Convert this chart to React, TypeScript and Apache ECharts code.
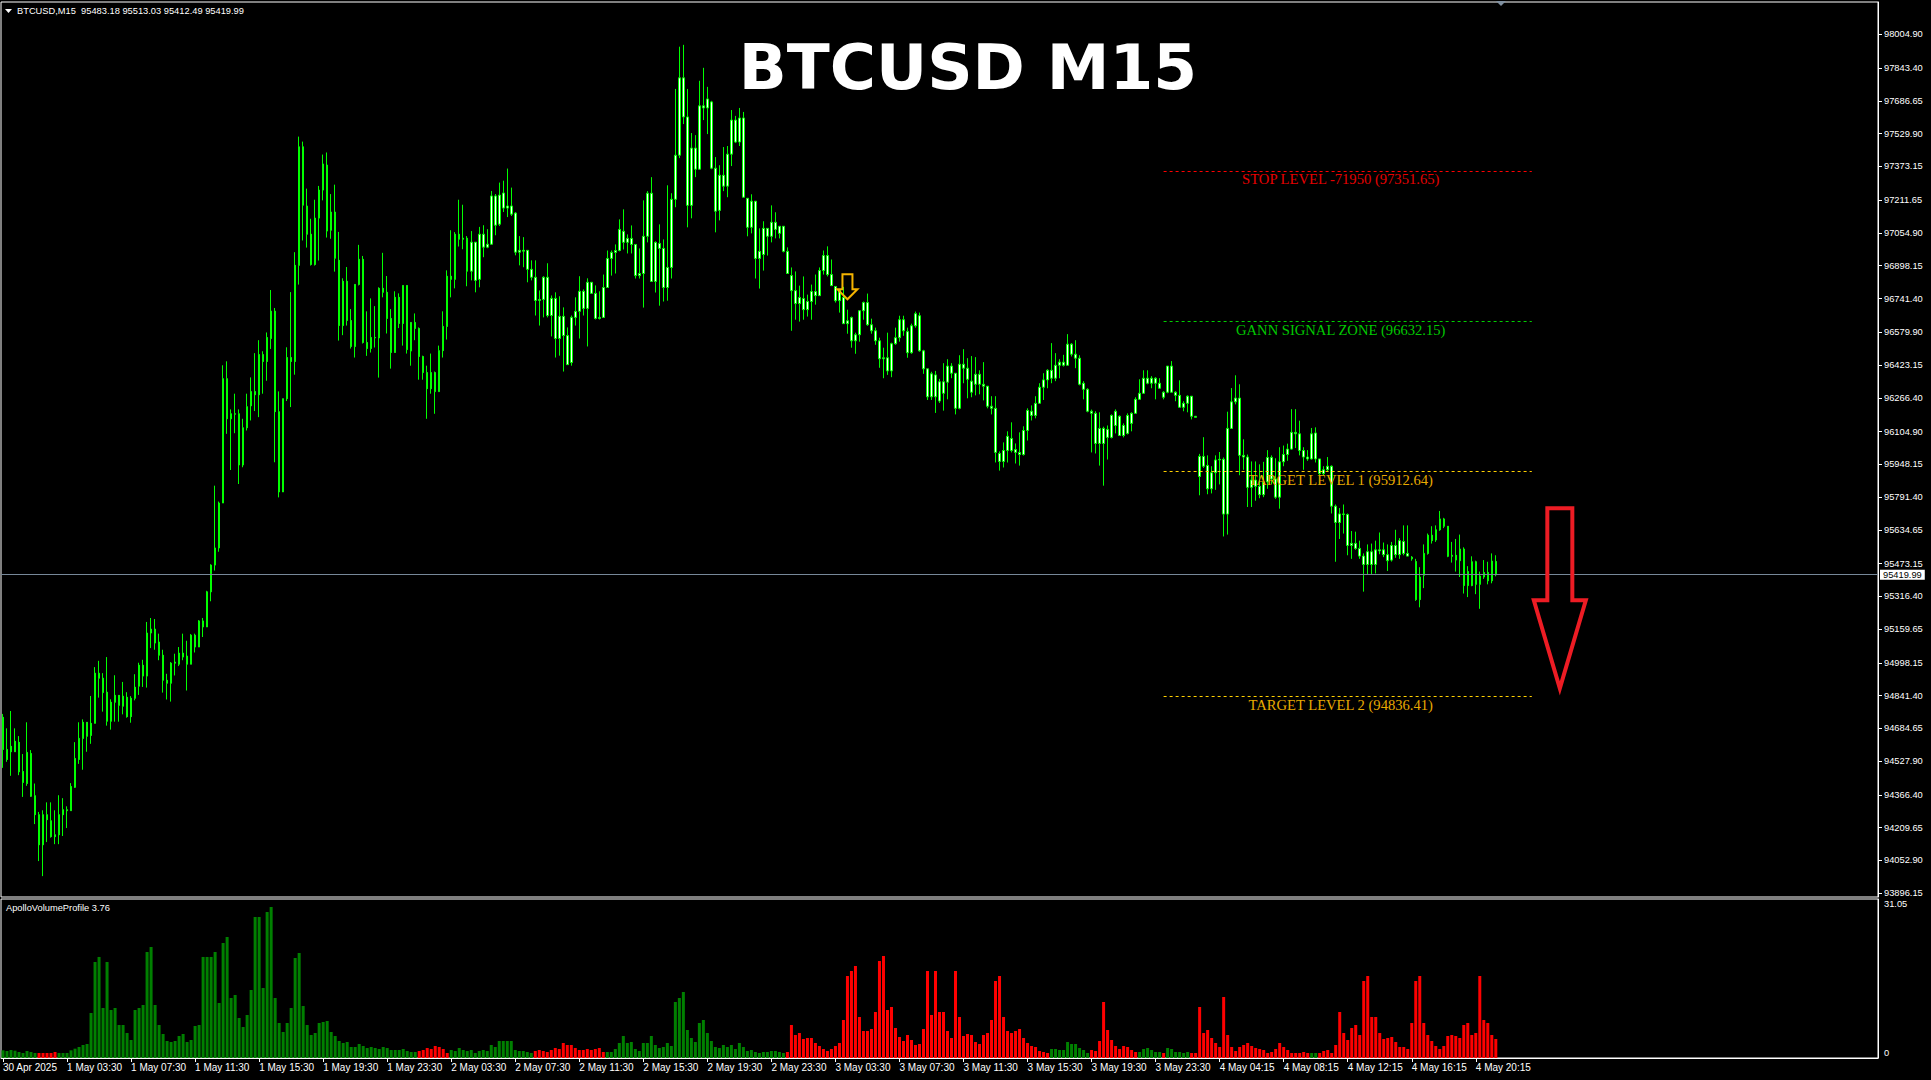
import React, { useEffect, useRef } from 'react';
import * as echarts from 'echarts';

// ---------- DATA ----------
const opens = [
94738,94584,94573,94573,94618,94479,94421,94565,94363,94272,
94128,94272,94243,94167,94176,94272,94296,94291,94403,94536,
94637,94714,94651,94709,94949,94925,94858,94719,94810,94843,
94791,94834,94741,94829,94887,94987,94935,95141,95160,95098,
95035,94915,94901,94997,94992,95045,95031,94992,95131,95074,
95199,95170,95338,95466,95548,95763,96358,96166,96190,96190,
95945,96123,96228,96296,96281,96473,96440,96550,96681,96200,
95816,96262,96459,96440,96900,97467,97184,97049,96904,97126,
97260,97380,97068,97155,96924,96612,96824,96636,96512,96809,
96929,96531,96502,96555,96553,96790,96771,96646,96483,96747,
96622,96804,96490,96627,96598,96464,96387,96310,96387,96296,
96492,96608,96848,96833,97049,97025,97030,96872,97011,96833,
97049,96987,97001,97232,97097,97246,97174,97184,97150,96963,
96972,96972,96881,96843,96732,96737,96843,96660,96742,96550,
96656,96564,96435,96651,96680,96776,96694,96819,96766,96646,
96651,96794,96933,96962,96971,97063,97010,97029,97000,96851,
96861,97039,97245,96823,97005,96981,96794,96890,97216,97427,
97797,97610,97187,97461,97360,97663,97653,97682,97365,97163,
97331,97279,97432,97595,97490,97605,97221,97082,97207,96933,
96952,97077,97039,97106,97053,97087,96967,96851,96779,96717,
96741,96688,96727,96775,96755,96875,96947,96856,96799,96731,
96746,96621,96650,96539,96568,96683,96722,96616,96587,96539,
96453,96458,96395,96525,96554,96640,96583,96482,96611,96659,
96491,96405,96271,96376,96251,96343,96341,96418,96384,96216,
96427,96408,96346,96331,96379,96331,96322,96226,96216,96000,
95962,96014,96072,96019,96005,95995,96110,96202,96182,96240,
96317,96352,96398,96360,96422,96437,96422,96523,96475,96456,
96336,96307,96202,96192,96048,96120,96077,96077,96134,96178,
96086,96096,96144,96192,96259,96288,96360,96336,96360,96336,
96293,96293,96418,96293,96278,96221,96240,96274,96178,95890,
95986,95943,95831,95908,95969,95972,95710,96120,96247,96265,
95991,95983,95838,95873,95843,95803,95864,95981,95878,95791,
95960,95995,96021,96101,96094,96014,95983,95974,96098,95974,
95904,95922,95939,95748,95670,95711,95708,95560,95570,95546,
95509,95469,95530,95469,95539,95539,95516,95490,95560,95516,
95579,95522,95504,95483,95301,95417,95522,95609,95586,95635,
95687,95652,95508,95513,95487,95543,95368,95368,95482,95374,
95409,95431,95391,95483.18];

const highs = [
94754,94685,94768,94685,94648,94562,94714,94581,94421,94285,
94293,94331,94331,94293,94365,94351,94312,94423,94619,94714,
94728,94714,94840,94978,95008,94949,95026,94824,94939,94843,
94907,94858,94839,94944,94999,95013,95194,95213,95208,95138,
95061,94946,95002,95042,95074,95138,95104,95136,95138,95203,
95213,95343,95470,95846,95770,96422,96441,96211,96286,96211,
96166,96286,96364,96480,96542,96489,96579,96782,96696,96297,
96262,96508,96772,96963,97516,97492,97267,97123,97214,97280,
97430,97440,97241,97286,97060,96838,96892,96691,96809,96998,
96945,96680,96742,96705,96795,96960,96849,96691,96776,96766,
96804,96804,96627,96670,96603,96468,96420,96478,96392,96516,
96680,96876,97068,97059,97214,97190,97040,97064,97011,97084,
97092,97073,97256,97241,97296,97305,97363,97272,97155,97040,
97035,96972,96924,96924,96780,96848,96910,96756,96771,96752,
96699,96603,96660,96747,96848,96785,96838,96819,96804,96776,
96856,96971,96971,97000,97120,97168,97048,97091,97000,96981,
97211,97255,97322,97015,97096,97024,97283,97245,97744,97946,
97955,97744,97533,97523,97783,97845,97754,97687,97418,97379,
97466,97471,97643,97615,97653,97634,97221,97240,97207,97077,
97111,97077,97187,97154,97087,97087,96986,96890,96871,96803,
96847,96760,96808,96856,96890,96971,96991,96928,96799,96784,
96797,96688,96655,96578,96683,96727,96765,96645,96602,96554,
96506,96578,96530,96602,96659,96659,96602,96621,96679,96674,
96496,96405,96391,96395,96357,96432,96451,96432,96384,96470,
96499,96456,96466,96461,96398,96437,96322,96274,96274,96010,
96053,96106,96149,96048,96101,96130,96216,96230,96274,96336,
96384,96403,96528,96480,96451,96472,96571,96528,96542,96470,
96346,96312,96210,96202,96197,96128,96134,96187,96211,96182,
96144,96192,96197,96269,96355,96398,96398,96370,96365,96360,
96298,96418,96442,96298,96350,96250,96278,96274,96178,95998,
96078,95991,95939,95991,96007,95981,96200,96313,96374,96331,
96068,95995,95962,95962,95948,95960,96016,95991,95977,96030,
96038,96047,96212,96212,96157,96030,96016,96122,96125,95974,
95939,95983,95943,95756,95739,95756,95713,95629,95626,95583,
95522,95565,95569,95583,95622,95574,95565,95577,95635,95595,
95656,95656,95509,95496,95456,95565,95617,95652,95656,95725,
95692,95652,95577,95591,95612,95551,95461,95508,95487,95435,
95490,95482,95522,95513.03];

const lows = [
94496,94525,94458,94573,94461,94357,94410,94357,94227,94050,
93978,94141,94162,94131,94131,94170,94208,94291,94400,94515,
94487,94573,94611,94709,94832,94765,94698,94679,94717,94717,
94752,94736,94712,94819,94845,94883,94880,95069,95061,95011,
94856,94823,94813,94938,94983,95011,94866,94992,95048,95074,
95122,95170,95293,95440,95530,95763,96094,95921,96097,95854,
95934,96110,96158,96203,96174,96286,96348,96500,95958,95790,
95816,96251,96222,96377,96808,97019,96985,96899,96899,96923,
97211,97033,97027,96870,96540,96566,96612,96502,96459,96804,
96526,96467,96483,96507,96363,96747,96574,96406,96483,96600,
96516,96478,96420,96542,96353,96353,96166,96286,96190,96296,
96459,96545,96747,96790,96990,96977,96800,96828,96771,96795,
96939,96982,97001,97044,97088,97155,97131,97136,96948,96900,
96891,96819,96828,96660,96612,96651,96651,96560,96459,96468,
96392,96425,96420,96612,96550,96660,96512,96766,96641,96641,
96650,96794,96851,96861,96967,96976,96957,96957,96837,96837,
96698,97010,96823,96770,96707,96727,96731,96837,97178,97413,
97576,97082,97125,97322,97360,97595,97528,97360,97058,97115,
97255,97226,97375,97485,97471,97226,97039,97053,96837,96789,
96875,96947,97010,97029,97029,96962,96861,96587,96640,96631,
96640,96655,96640,96712,96755,96856,96847,96803,96722,96674,
96621,96573,96506,96477,96535,96640,96611,96573,96520,96410,
96360,96376,96365,96520,96535,96563,96458,96477,96602,96487,
96381,96256,96256,96194,96242,96205,96259,96360,96187,96211,
96336,96264,96269,96278,96283,96254,96216,96187,95957,95918,
95933,95957,96005,95952,95942,95990,96062,96158,96168,96240,
96256,96312,96336,96346,96360,96416,96422,96464,96408,96326,
96259,96197,96005,96000,95942,95846,95971,96072,96096,96086,
96077,96091,96106,96192,96259,96288,96331,96312,96259,96312,
96259,96288,96293,96250,96221,96202,96197,96163,96173,95800,
95931,95805,95809,95826,95852,95603,95612,96120,96235,95896,
95922,95744,95744,95774,95786,95791,95831,95852,95783,95736,
95939,95965,96018,96026,95991,95922,95965,95971,95957,95896,
95896,95913,95713,95482,95591,95617,95513,95496,95539,95496,
95339,95421,95421,95426,95518,95504,95438,95483,95501,95496,
95513,95508,95487,95295,95264,95356,95516,95569,95577,95630,
95643,95504,95478,95435,95409,95330,95313,95365,95327,95257,
95400,95374,95379,95412.49];

const closes = [
94584,94536,94599,94623,94477,94426,94570,94360,94272,94128,
94272,94248,94167,94176,94272,94296,94291,94407,94541,94637,
94714,94647,94709,94949,94925,94856,94719,94810,94843,94795,
94839,94741,94829,94882,94987,94935,95141,95160,95093,95035,
94915,94901,94997,95002,95045,95026,94992,95131,95074,95199,
95170,95338,95466,95548,95763,96358,96166,96190,96188,95945,
96123,96224,96296,96281,96473,96440,96555,96681,96200,95816,
96262,96459,96440,96900,97467,97188,97049,96904,97126,97260,
97385,97064,97155,96934,96612,96824,96636,96512,96809,96929,
96531,96502,96555,96553,96790,96771,96646,96483,96747,96622,
96804,96497,96627,96598,96464,96387,96310,96387,96296,96492,
96608,96848,96833,97049,97025,97030,96872,97011,96828,97049,
96987,97001,97232,97092,97236,97174,97184,97145,96963,96972,
96968,96881,96843,96732,96737,96843,96660,96742,96550,96656,
96564,96425,96651,96680,96776,96694,96819,96766,96646,96651,
96794,96933,96962,96971,97072,97010,97029,97000,96851,96861,
97039,97245,96823,97010,96981,96794,96890,97216,97427,97797,
97610,97187,97461,97360,97663,97653,97696,97365,97159,97331,
97279,97432,97595,97490,97605,97226,97082,97207,96933,96967,
97077,97039,97106,97072,97087,96967,96861,96779,96717,96746,
96688,96727,96775,96755,96875,96947,96856,96803,96731,96784,
96621,96635,96539,96568,96683,96722,96616,96587,96539,96453,
96458,96395,96525,96554,96640,96587,96482,96611,96669,96491,
96405,96271,96381,96271,96343,96288,96418,96384,96216,96427,
96408,96355,96293,96379,96331,96322,96226,96216,96005,95962,
96014,96082,96014,96005,95995,96110,96206,96182,96240,96317,
96352,96398,96360,96422,96437,96422,96523,96475,96456,96331,
96307,96202,96192,96048,96120,96048,96115,96182,96202,96086,
96134,96182,96192,96259,96288,96360,96336,96360,96336,96312,
96269,96418,96293,96278,96221,96240,96274,96178,96173,95986,
95939,95831,95908,95969,95972,95710,96120,96247,96265,95991,
95983,95838,95873,95843,95803,95864,95981,95878,95791,95960,
95995,96021,96101,96094,96014,95983,95974,96094,95974,95904,
95922,95939,95748,95670,95711,95708,95560,95570,95546,95509,
95469,95530,95469,95539,95534,95516,95487,95560,95516,95583,
95522,95509,95496,95301,95409,95522,95609,95583,95635,95687,
95652,95508,95513,95490,95543,95368,95435,95482,95374,95414,
95431,95391,95485,95419.99];

const volumes = [
1.50,1.37,1.56,1.43,1.17,0.98,1.37,1.17,0.98,0.98,
0.98,0.98,0.98,1.17,0.98,0.98,0.98,1.50,1.82,2.15,
2.54,2.73,8.79,18.75,19.73,9.77,18.75,9.37,9.77,6.44,
6.44,4.88,3.52,9.37,9.77,10.35,20.70,21.68,10.35,6.44,
4.69,3.32,3.12,3.32,4.30,4.69,3.12,3.52,6.25,6.44,
19.73,19.73,19.73,20.70,10.74,22.46,23.63,11.72,12.30,7.81,
6.05,8.40,13.28,27.54,27.54,13.67,28.51,29.49,11.72,6.84,
5.08,6.84,9.77,19.53,20.51,10.16,6.44,4.49,4.88,6.84,
7.03,7.23,5.08,4.30,3.32,2.93,3.12,2.15,2.15,2.73,
2.34,1.95,2.15,1.95,1.76,2.15,1.95,1.56,1.56,1.56,
1.76,1.37,1.17,1.17,1.37,1.56,1.95,1.76,2.34,2.15,
1.76,0.98,1.56,1.37,1.95,1.56,1.37,1.56,0.98,1.37,
1.56,1.37,2.54,2.15,3.32,3.32,3.32,3.32,1.56,1.37,
1.37,1.17,0.98,1.37,1.56,1.37,1.17,1.56,1.95,1.76,
2.93,2.54,2.54,1.95,1.56,1.56,1.76,1.56,1.76,1.95,
1.17,1.17,1.17,1.76,2.93,4.30,2.93,3.12,1.76,1.37,
2.93,2.93,4.30,2.54,1.95,2.15,2.93,2.34,10.94,11.72,
12.89,5.47,3.91,3.12,6.84,7.42,4.88,3.32,2.15,1.95,
2.54,2.15,2.54,1.76,2.93,2.15,1.37,1.56,1.17,0.98,
1.17,1.17,1.37,1.37,1.17,0.98,1.17,6.44,4.49,4.88,
3.71,3.91,3.91,2.93,2.34,1.76,1.37,1.76,2.34,2.93,
7.42,16.01,16.99,17.97,8.01,5.27,5.27,5.66,8.98,18.94,
19.92,9.37,9.96,5.86,4.10,3.32,4.49,3.52,2.54,2.73,
5.66,16.99,8.40,16.99,8.98,8.98,5.27,3.91,16.99,8.01,
4.30,4.69,4.49,3.12,2.73,4.49,4.88,7.42,15.04,16.01,
8.01,5.27,4.88,5.27,5.66,3.91,2.93,2.34,2.15,1.37,
1.17,0.98,1.76,1.76,1.56,1.56,3.12,2.73,2.73,1.95,
1.56,0.98,1.56,1.37,3.32,10.94,5.47,3.52,2.34,1.76,
2.34,2.15,1.56,1.17,1.17,1.76,1.95,1.56,1.17,1.17,
0.98,1.95,1.76,1.17,1.17,0.98,1.17,0.98,0.98,9.96,
4.88,5.47,3.91,2.93,2.15,11.91,4.49,2.15,1.37,2.15,
2.54,2.93,2.34,1.95,1.76,1.56,0.98,1.17,1.76,2.93,
2.15,1.56,0.98,0.98,0.98,1.17,0.98,0.98,0.98,0.98,
1.37,1.56,0.98,2.54,8.98,4.88,3.52,5.86,6.44,4.49,
15.04,16.01,8.01,8.01,4.88,3.71,3.91,4.10,3.12,2.15,
2.15,1.76,6.84,15.04,16.01,6.84,4.49,3.32,2.34,1.76,
2.34,4.30,4.49,4.30,3.91,6.44,6.84,4.49,4.88,16.01,
7.42,6.84,4.49,3.71];

// bar index ranges where the volume histogram is red (others green)
const redVolumeRanges = [[9, 13], [104, 111], [133, 150], [196, 261], [272, 283], [290, 290], [297, 326], [329, 373]];

const timeTickLabels = [
  '30 Apr 2025', '1 May 03:30', '1 May 07:30', '1 May 11:30', '1 May 15:30', '1 May 19:30',
  '1 May 23:30', '2 May 03:30', '2 May 07:30', '2 May 11:30', '2 May 15:30', '2 May 19:30',
  '2 May 23:30', '3 May 03:30', '3 May 07:30', '3 May 11:30', '3 May 15:30', '3 May 19:30',
  '3 May 23:30', '4 May 04:15', '4 May 08:15', '4 May 12:15', '4 May 16:15', '4 May 20:15',
];

const priceTicks = [
  98004.90, 97843.40, 97686.65, 97529.90, 97373.15, 97211.65, 97054.90, 96898.15, 96741.40,
  96579.90, 96423.15, 96266.40, 96104.90, 95948.15, 95791.40, 95634.65, 95473.15, 95316.40,
  95159.65, 94998.15, 94841.40, 94684.65, 94527.90, 94366.40, 94209.65, 94052.90, 93896.15,
];

const volumeTicks = [0, 31.05];

const levels = [
  { name: 'STOP LEVEL -71950', value: 97351.65, line: '#ff0000', text: '#e60000' },
  { name: 'GANN SIGNAL ZONE', value: 96632.15, line: '#00d000', text: '#00c800' },
  { name: 'TARGET LEVEL 1', value: 95912.64, line: '#ffd000', text: '#e8aa00' },
  { name: 'TARGET LEVEL 2', value: 94836.41, line: '#ffd000', text: '#e8aa00' },
];
const levelFromBar = 290;
const levelToBar = 382;

const lastQuote = { open: 95483.18, high: 95513.03, low: 95412.49, close: 95419.99 };
const signalArrow = { bar: 211, price: 96738 };
const targetArrow = { bar: 389, price: 94862 };

const BAR_SLOTS = 469;
const TICK_EVERY = 16;
const PRICE_MIN = 93878.2;
const PRICE_MAX = 98159.9;
const VOL_MAX = 31.05;

const SANS = '"Liberation Sans", Arial, sans-serif';

export default function App() {
  const ref = useRef<HTMLDivElement>(null);

  useEffect(() => {
    const el = ref.current as HTMLDivElement;
    const chart = echarts.init(el, null, { renderer: 'svg' });
    const n = closes.length;
    const categories = Array.from({ length: BAR_SLOTS }, (_, i) => String(i));
    const candleData = closes.map((c, i) => [
      opens[i], c,
      Math.min(lows[i], opens[i], c),
      Math.max(highs[i], opens[i], c),
    ]);
    const isRed = (i: number) => redVolumeRanges.some(([a, b]) => i >= a && i <= b);
    const volData = volumes.map((v, i) => ({ value: v, itemStyle: { color: isRed(i) ? '#ff0000' : '#008000' } }));
    const showTick = (i: number) => i % TICK_EVERY === 0 && i < n;

    const levelLines = levels.map((l) => [
      {
        coord: [levelFromBar, l.value],
        lineStyle: { color: l.line, type: [3, 3], width: 1 },
        label: {
          show: true,
          position: 'insideMiddleBottom',
          distance: 1,
          offset: [-7, 0],
          formatter: `${l.name} (${l.value.toFixed(2)})`,
          color: l.text,
          fontFamily: '"Liberation Serif", "Times New Roman", serif',
          fontSize: 14.6,
        },
      },
      { coord: [levelToBar, l.value] },
    ]);

    const option: any = {
      animation: false,
      backgroundColor: '#000000',
      textStyle: { fontFamily: SANS },
      grid: [
        { left: 1, top: 2, width: 1877, height: 895, show: true, borderColor: '#ffffff', borderWidth: 1, backgroundColor: 'transparent' },
        { left: 1, top: 899, width: 1877, height: 159, show: true, borderColor: '#ffffff', borderWidth: 1, backgroundColor: 'transparent' },
      ],
      xAxis: [
        {
          gridIndex: 0, type: 'category', data: categories, boundaryGap: true,
          axisLine: { show: false }, axisTick: { show: false }, axisLabel: { show: false }, splitLine: { show: false },
        },
        {
          gridIndex: 1, type: 'category', data: categories, boundaryGap: true,
          axisLine: { show: true, lineStyle: { color: '#ffffff', width: 1 } },
          axisTick: { show: true, alignWithLabel: true, length: 4, interval: (i: number) => showTick(i), lineStyle: { color: '#ffffff' } },
          axisLabel: {
            show: true,
            interval: (i: number) => showTick(i),
            formatter: (_v: string, i: number) => timeTickLabels[i / TICK_EVERY] || '',
            align: 'left',
            color: '#ffffff',
            fontFamily: SANS,
            fontSize: 10,
            margin: 4,
          },
          splitLine: { show: false },
        },
      ],
      yAxis: [
        {
          gridIndex: 0, type: 'value', position: 'right', min: PRICE_MIN, max: PRICE_MAX, scale: true,
          axisLine: { show: true, lineStyle: { color: '#ffffff' } },
          axisTick: { show: true, length: 4, customValues: priceTicks, lineStyle: { color: '#ffffff' } },
          axisLabel: {
            show: true, customValues: priceTicks, formatter: (v: number) => v.toFixed(2),
            color: '#ffffff', fontFamily: SANS, fontSize: 9.3, margin: 6,
          },
          splitLine: { show: false },
        },
        {
          gridIndex: 1, type: 'value', position: 'right', min: 0, max: VOL_MAX,
          axisLine: { show: true, lineStyle: { color: '#ffffff' } },
          axisTick: { show: false },
          axisLabel: {
            show: true, customValues: volumeTicks,
            formatter: (v: number) => (v === 0 ? '{b|0}' : '{t|' + v.toFixed(2) + '}'),
            margin: 6,
            rich: {
              t: { color: '#ffffff', fontFamily: SANS, fontSize: 9.3, padding: [10, 0, 0, 0] },
              b: { color: '#ffffff', fontFamily: SANS, fontSize: 9.3, padding: [0, 0, 10, 0] },
            },
          },
          splitLine: { show: false },
        },
      ],
      series: [
        {
          type: 'candlestick',
          xAxisIndex: 0, yAxisIndex: 0,
          data: candleData,
          barWidth: 2,
          itemStyle: { color: '#ffffff', color0: '#ffffff', borderColor: '#00ff00', borderColor0: '#00ff00', borderWidth: 1 },
          markLine: {
            silent: true,
            symbol: ['none', 'none'],
            animation: false,
            data: [
              {
                yAxis: lastQuote.close,
                lineStyle: { color: '#778899', type: 'solid', width: 1 },
                label: {
                  show: true, position: 'end', distance: 2,
                  formatter: lastQuote.close.toFixed(2),
                  backgroundColor: '#ffffff', color: '#000000', padding: [1, 3, 0, 3],
                  fontFamily: SANS, fontSize: 9.3,
                },
              },
              ...levelLines,
            ],
          },
        },
        {
          type: 'bar',
          xAxisIndex: 1, yAxisIndex: 1,
          data: volData,
          barWidth: 3,
        },
      ],
    };

    chart.setOption(option);

    const p1 = chart.convertToPixel({ gridIndex: 0 }, [signalArrow.bar, signalArrow.price]) as number[];
    const p2 = chart.convertToPixel({ gridIndex: 0 }, [targetArrow.bar, targetArrow.price]) as number[];
    const rel = (p: number[], pts: number[][]) => pts.map(([dx, dy]) => [p[0] + dx, p[1] + dy]);
    const header = `BTCUSD,M15  ${lastQuote.open.toFixed(2)} ${lastQuote.high.toFixed(2)} ${lastQuote.low.toFixed(2)} ${lastQuote.close.toFixed(2)}`;

    chart.setOption({
      graphic: [
        { type: 'polygon', z: 100, shape: { points: [[5, 9], [12, 9], [8.5, 13]] }, style: { fill: '#ffffff' } },
        { type: 'text', z: 100, x: 17, y: 11, style: { text: header, fill: '#ffffff', font: `9.3px ${SANS}`, verticalAlign: 'middle' } },
        { type: 'polygon', z: 100, shape: { points: [[1496, 1], [1506, 1], [1501, 6]] }, style: { fill: '#8090a0' } },
        { type: 'text', z: 100, x: 6, y: 908, style: { text: 'ApolloVolumeProfile 3.76', fill: '#ffffff', font: `9.3px ${SANS}`, verticalAlign: 'middle' } },
        { type: 'text', z: 100, x: 968, y: 67, style: { text: 'BTCUSD M15', fill: '#ffffff', font: 'bold 63px "DejaVu Sans", sans-serif', align: 'center', verticalAlign: 'middle' } },
        {
          type: 'polygon', z: 100,
          shape: { points: rel(p1, [[-5, -25], [5, -25], [5, -10], [10, -10], [0, 0], [-10, -10], [-5, -10]]) },
          style: { fill: 'none', stroke: '#f5b400', lineWidth: 2 },
        },
        {
          type: 'polygon', z: 100,
          shape: { points: rel(p2, [[-12.5, -183], [12.5, -183], [12.5, -91], [26, -91], [0, -3], [-26, -91], [-12.5, -91]]) },
          style: { fill: 'none', stroke: '#ed1c24', lineWidth: 4, lineJoin: 'miter' },
        },
      ],
    });

    return () => chart.dispose();
  }, []);

  return (
    <div
      ref={ref}
      style={{ position: 'fixed', left: 0, top: 0, width: 1931, height: 1080, background: '#000000' }}
    />
  );
}
